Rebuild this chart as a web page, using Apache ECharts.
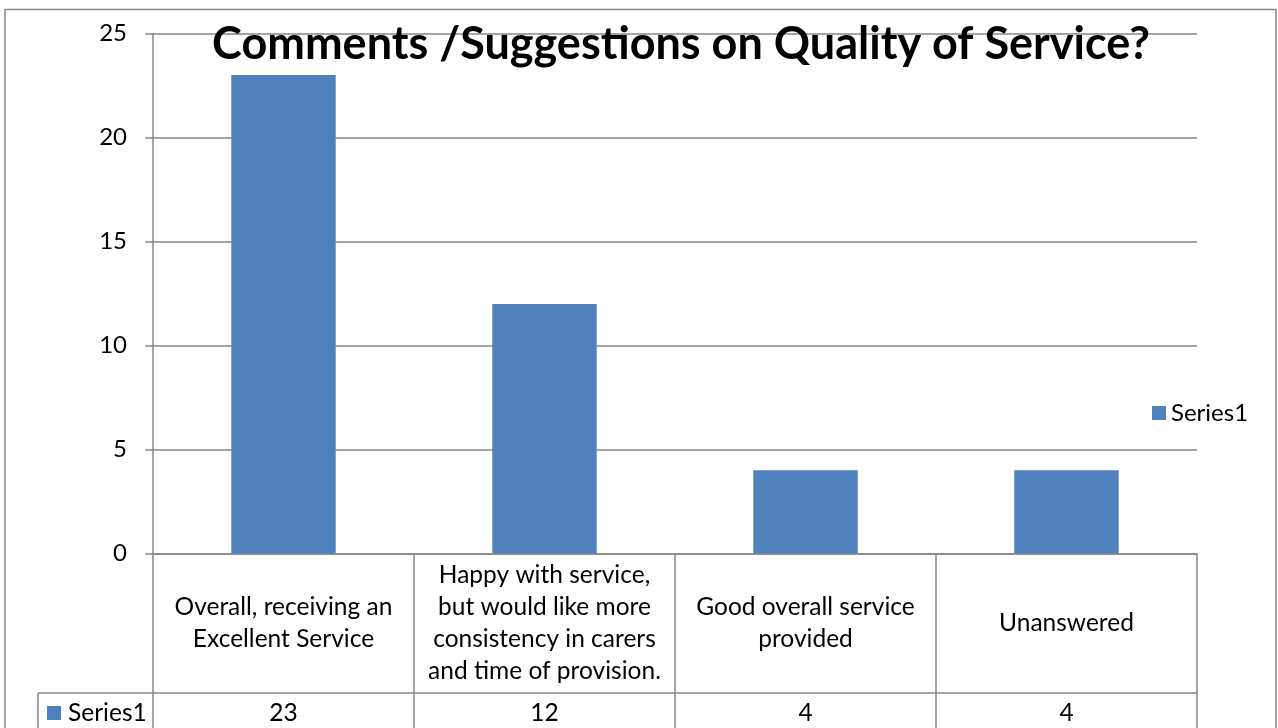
<!DOCTYPE html>
<html><head><meta charset="utf-8">
<script src="https://cdn.jsdelivr.net/npm/echarts@6/dist/echarts.min.js"></script>
<style>html,body{margin:0;padding:0;background:#fff}#c{width:1278px;height:728px}</style>
</head><body><div id="c"></div>
<script>
const titleText = 'Comments /Suggestions on Quality of Service?';
const seriesName = 'Series1';
const categories = [
  'Overall, receiving an\nExcellent Service',
  'Happy with service,\nbut would like more\nconsistency in carers\nand time of provision.',
  'Good overall service\nprovided',
  'Unanswered'
];
const values = [23, 12, 4, 4];
const yMin = 0, yMax = 25, yInterval = 5;

const FONT = 'Lato';
const GRAY = '#878787';
const BAR = '#4F81BD';
const FS = 24;
const FS_TABLE = 24.5;

const chart = echarts.init(document.getElementById('c'), null, {renderer: 'canvas'});
chart.setOption({
  animation: false,
  backgroundColor: '#fff',
  title: {
    text: titleText,
    left: 676, top: 17, textAlign: 'center',
    textStyle: {fontFamily: FONT, fontWeight: 'bold', fontSize: 45, color: '#000'}
  },
  legend: {
    data: [seriesName], left: 1152, top: 401, padding: 0,
    icon: 'rect', itemWidth: 14, itemHeight: 14,
    textStyle: {fontFamily: FONT, fontSize: FS, color: '#000'}
  },
  grid: {left: 153, right: 81, top: 33.5, bottom: 174.5, containLabel: false},
  xAxis: [
    {
      type: 'category', data: categories, position: 'bottom',
      axisLine: {show: true, lineStyle: {color: GRAY, width: 1.5}},
      axisTick: {show: true, alignWithLabel: false, interval: 0, length: 200, lineStyle: {color: GRAY, width: 1.5}},
      axisLabel: {interval: 0, margin: 69.5, verticalAlign: 'middle', align: 'center',
        fontFamily: FONT, fontSize: FS_TABLE, lineHeight: 32, color: '#000'}
    },
    {
      type: 'category', data: categories, position: 'bottom', offset: 139.5,
      axisLine: {show: true, lineStyle: {color: GRAY, width: 1.5}},
      axisTick: {show: false},
      axisLabel: {interval: 0, margin: 20, verticalAlign: 'middle', align: 'center',
        fontFamily: FONT, fontSize: FS_TABLE, color: '#000',
        formatter: function (v, i) { return String(values[i]); }}
    }
  ],
  yAxis: {
    type: 'value', min: yMin, max: yMax, interval: yInterval,
    axisLine: {show: true, lineStyle: {color: GRAY, width: 1.5}},
    axisTick: {show: true, length: 8, lineStyle: {color: GRAY, width: 1.5}},
    splitLine: {show: true, lineStyle: {color: GRAY, width: 1.5}},
    axisLabel: {margin: 26, fontFamily: FONT, fontSize: FS, color: '#000'}
  },
  series: [{
    name: seriesName, type: 'bar', data: values, barWidth: '40%',
    itemStyle: {color: BAR}
  }],
  graphic: [
    {type: 'rect', shape: {x: 5, y: 9.5, width: 1271, height: 740},
      style: {fill: 'none', stroke: GRAY, lineWidth: 1.5}, silent: true, z: 100},
    {type: 'line', shape: {x1: 38, y1: 693, x2: 153, y2: 693},
      style: {stroke: GRAY, lineWidth: 1.5}, silent: true},
    {type: 'line', shape: {x1: 38, y1: 693, x2: 38, y2: 740},
      style: {stroke: GRAY, lineWidth: 1.5}, silent: true},
    {type: 'rect', shape: {x: 47, y: 706, width: 14, height: 14},
      style: {fill: BAR}, silent: true},
    {type: 'text', x: 68, y: 713,
      style: {text: seriesName, fontFamily: FONT, fontSize: FS_TABLE, fill: '#000', verticalAlign: 'middle'}, silent: true}
  ]
});
</script>
</body></html>
